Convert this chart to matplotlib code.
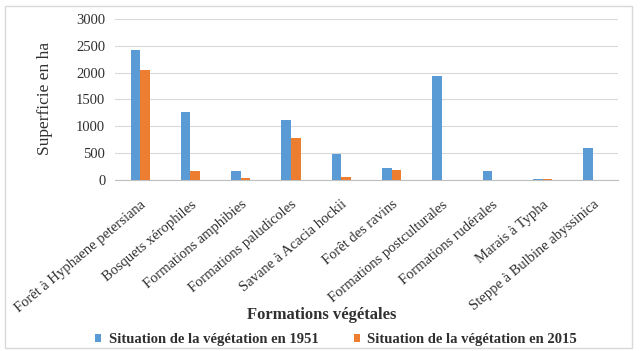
import numpy as np
import matplotlib.pyplot as plt
from matplotlib.patches import Rectangle

# Superficie des formations végétales (ha), 1951 vs 2015
formations = [
    "Forêt à Hyphaene petersiana",
    "Bosquets xérophiles",
    "Formations amphibies",
    "Formations paludicoles",
    "Savane à Acacia hockii",
    "Forêt des ravins",
    "Formations postculturales",
    "Formations rudérales",
    "Marais à Typha",
    "Steppe à Bulbine abyssinica",
]
veg_1951 = [2430, 1270, 170, 1120, 480, 220, 1930, 170, 10, 600]
veg_2015 = [2050, 160, 40, 790, 60, 180, 0, 0, 15, 0]

serif = "Liberation Serif"
blue = "#5B9BD5"
orange = "#ED7D31"
txt = "#303030"

fig = plt.figure(figsize=(6.44, 3.51), dpi=100)
W, H = 644, 351
ax = fig.add_axes([115 / W, 1 - 180 / H, (618 - 115) / W, (180 - 19) / H])

x = np.arange(len(formations))
bw = 0.19
ax.bar(x - bw / 2, veg_1951, bw, color=blue, label="Situation de la végétation en 1951", zorder=3)
ax.bar(x + bw / 2, veg_2015, bw, color=orange, label="Situation de la végétation en 2015", zorder=3)

ax.set_xlim(-0.5, len(formations) - 0.5)
ax.set_ylim(0, 3000)
ax.set_yticks(np.arange(0, 3001, 500))
ax.grid(axis="y", color="#D9D9D9", linewidth=0.8, zorder=0)
for s in ["top", "right", "left"]:
    ax.spines[s].set_visible(False)
ax.spines["bottom"].set_color("#BFBFBF")
ax.tick_params(axis="both", length=0)
ax.tick_params(axis="y", pad=7)
ax.tick_params(axis="x", pad=13)

ax.set_xticks(x)
ax.set_xticklabels(formations, rotation=40, ha="right", rotation_mode="anchor",
                   fontfamily=serif, fontsize=10.5, color=txt)
for lbl in ax.get_yticklabels():
    lbl.set_fontfamily(serif)
    lbl.set_fontsize(10.5)
    lbl.set_color(txt)

fig.text(45 / W, 1 - 98 / H, "Superficie en ha", rotation=90, ha="center", va="center",
         fontfamily=serif, fontsize=12.5, color=txt)
fig.text(322 / W, 1 - 315 / H, "Formations végétales", ha="center", va="center",
         fontfamily=serif, fontsize=12, fontweight="bold", color=txt)

fig.legend(loc="center", bbox_to_anchor=(336 / W, 1 - 340 / H), ncol=2, frameon=False,
           prop={"family": serif, "size": 10.5, "weight": "bold"},
           handlelength=0.45, handleheight=0.45, columnspacing=2.4, handletextpad=0.5,
           labelcolor=txt)

# chart border
fig.patches.append(Rectangle((5 / W, 3 / H), 627 / W, 342 / H, transform=fig.transFigure,
                             fill=False, edgecolor="#D9D9D9", linewidth=1))

fig.savefig("out.png", dpi=100)
